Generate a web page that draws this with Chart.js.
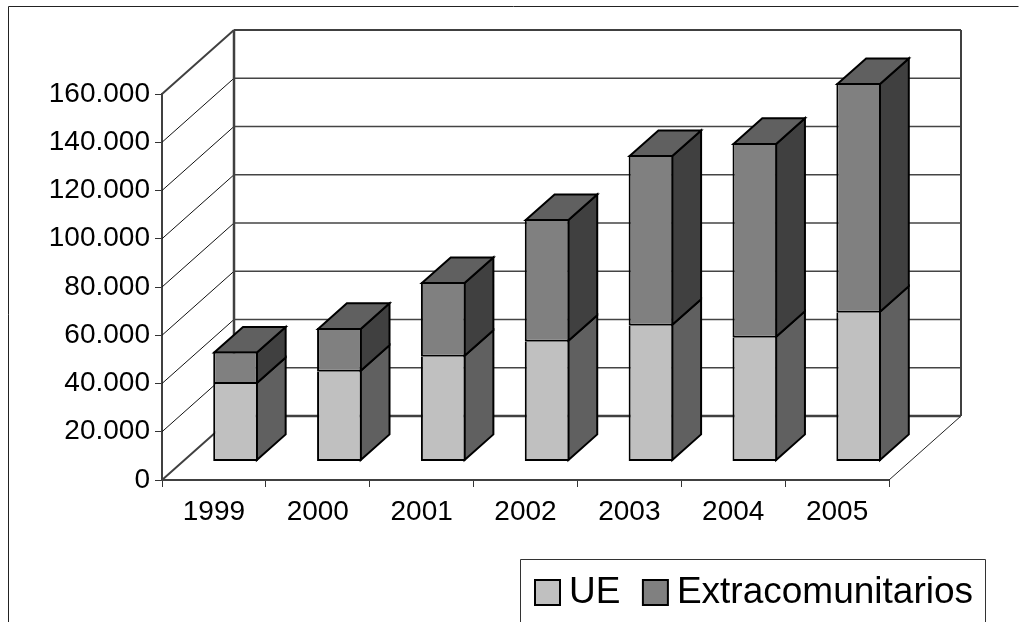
<!DOCTYPE html>
<html>
<head>
<meta charset="utf-8">
<title>UE / Extracomunitarios</title>
<script src="https://cdn.jsdelivr.net/npm/chart.js@4"></script>
<style>
html, body { margin: 0; padding: 0; background: #fff; overflow: hidden; }
canvas { display: block; }
</style>
</head>
<body>
<canvas id="chart" width="1019" height="622"></canvas>
<script>
// values
const categories = ['1999', '2000', '2001', '2002', '2003', '2004', '2005'];
const ueValues = [32100, 37200, 43400, 49600, 56250, 51300, 61650];
const extraValues = [13450, 18150, 31000, 50900, 70800, 80750, 95250];

const FONT = '"Liberation Sans", Arial, sans-serif';
const depthX = 72, depthY = 64;      // depth of the chart box
const barShiftX = 21.6, barShiftY = 18.5; // bars stand a bit behind the axis plane
const barDepthX = 28.8, barDepthY = 25.6;
const inset = 1; // chart.js draws borders inside the bar, side faces meet the middle of it

function poly(ctx, pts, fill, stroke, width) {
    ctx.beginPath();
    pts.forEach((p, i) => i ? ctx.lineTo(p[0], p[1]) : ctx.moveTo(p[0], p[1]));
    ctx.closePath();
    if (fill) { ctx.fillStyle = fill; ctx.fill(); }
    ctx.strokeStyle = stroke;
    ctx.lineWidth = width;
    ctx.stroke();
}

function line(ctx, x1, y1, x2, y2, color, width) {
    ctx.beginPath();
    ctx.moveTo(x1, y1);
    ctx.lineTo(x2, y2);
    ctx.strokeStyle = color;
    ctx.lineWidth = width;
    ctx.stroke();
}

const box3d = {
    id: 'box3d',
    beforeDraw(chart) {
        const ctx = chart.ctx;
        // outer frame, cut off by the window on the right and bottom
        ctx.save();
        ctx.beginPath();
        ctx.moveTo(8.5, 622);
        ctx.lineTo(8.5, 6.5);
        ctx.lineTo(1018.5, 6.5);
        ctx.strokeStyle = '#222';
        ctx.lineWidth = 1;
        ctx.stroke();
        // legend box
        ctx.beginPath();
        ctx.moveTo(520.5, 622);
        ctx.lineTo(520.5, 559.5);
        ctx.lineTo(985.5, 559.5);
        ctx.lineTo(985.5, 622);
        ctx.strokeStyle = '#333';
        ctx.stroke();
        ctx.restore();
        // put the legend where the reference has it
        const lg = chart.legend;
        lg.left = 512.5;
        lg.right = 1019;
        lg.top = 542;
        lg.bottom = 622;
        lg.width = lg.right - lg.left;
        lg.height = lg.bottom - lg.top;
    },
    beforeDatasetsDraw(chart) {
        const ctx = chart.ctx;
        const y = chart.scales.y, x = chart.scales.x;
        const l = x.left, r = x.right;
        const t = y.getPixelForValue(y.max), b = y.getPixelForValue(0);
        ctx.save();
        ctx.lineJoin = 'miter';

        // grid on the side and back walls
        y.ticks.forEach(tick => {
            if (tick.value === 0 || tick.value === y.max) return;
            const py = y.getPixelForValue(tick.value);
            line(ctx, l, py, l + depthX, py - depthY, '#111', 1);
            line(ctx, l + depthX, py - depthY, r + depthX, py - depthY, '#444', 1.5);
        });
        // floor and wall edges
        line(ctx, r, b, r + depthX, b - depthY, '#222', 1);
        line(ctx, l, b, l + depthX, b - depthY, '#404040', 2);
        line(ctx, l, t, l + depthX, t - depthY, '#404040', 2);
        line(ctx, l + depthX, b - depthY, r + depthX, b - depthY, '#404040', 2.5);
        line(ctx, l + depthX, t - depthY, r + depthX, t - depthY, '#404040', 2);
        line(ctx, l + depthX, t - depthY, l + depthX, b - depthY, '#404040', 2.5);
        line(ctx, r + depthX, t - depthY, r + depthX, b - depthY, '#404040', 2);

        // side and top faces of the bars
        const last = chart.data.datasets.length - 1;
        chart.data.datasets.forEach((ds, di) => {
            const meta = chart.getDatasetMeta(di);
            meta.data.forEach(bar => {
                const left = bar.x - bar.width / 2 + barShiftX + inset;
                const right = bar.x + bar.width / 2 + barShiftX - inset;
                const top = bar.y - barShiftY + (di === last ? inset : -inset);
                const base = bar.base - barShiftY - inset;
                poly(ctx, [[right, base], [right + barDepthX, base - barDepthY], [right + barDepthX, top - barDepthY], [right, top]], ds.sideColor, '#000', 2);
                if (di === last) {
                    poly(ctx, [[left, top], [left + barDepthX, top - barDepthY], [right + barDepthX, top - barDepthY], [right, top]], ds.topColor, '#000', 2);
                }
            });
        });
        ctx.restore();
    },
    beforeDatasetDraw(chart) {
        chart.ctx.save();
        chart.ctx.translate(barShiftX, -barShiftY);
    },
    afterDatasetDraw(chart) {
        chart.ctx.restore();
    }
};

new Chart(document.getElementById('chart'), {
    type: 'bar',
    data: {
        labels: categories,
        datasets: [
            {
                label: 'UE',
                data: ueValues,
                backgroundColor: '#C0C0C0',
                sideColor: '#606060',
                borderColor: '#000',
                borderWidth: {top: 0, left: 2, right: 2, bottom: 2},
                borderSkipped: false,
                clip: false
            },
            {
                label: 'Extracomunitarios',
                data: extraValues,
                backgroundColor: '#808080',
                sideColor: '#404040',
                topColor: '#606060',
                borderColor: '#000',
                borderWidth: 2,
                borderSkipped: false,
                clip: false
            }
        ]
    },
    options: {
        responsive: false,
        animation: false,
        barPercentage: 0.43,
        categoryPercentage: 1,
        layout: {padding: {top: 94, right: 130, left: 0, bottom: 23}},
        plugins: {
            title: {display: false},
            tooltip: {enabled: false},
            legend: {
                position: 'bottom',
                align: 'start',
                labels: {
                    color: '#000',
                    font: {family: FONT, size: 37},
                    usePointStyle: true,
                    pointStyle: 'rect',
                    boxWidth: 6,
                    boxHeight: 25,
                    padding: 32,
                    generateLabels(chart) {
                        return Chart.defaults.plugins.legend.labels.generateLabels(chart)
                            .map(item => Object.assign(item, {lineWidth: 2, strokeStyle: '#000'}));
                    }
                }
            }
        },
        scales: {
            x: {
                stacked: true,
                afterFit(scale) { scale.height = 40; },
                border: {color: '#404040', width: 2},
                grid: {drawOnChartArea: false, tickLength: 7, color: '#333', tickWidth: 1},
                ticks: {color: '#000', font: {family: FONT, size: 28}, padding: 8, maxRotation: 0}
            },
            y: {
                stacked: true,
                min: 0,
                max: 160000,
                afterFit(scale) { scale.width = 162; },
                border: {color: '#404040', width: 2},
                grid: {drawOnChartArea: false, tickLength: 7, color: '#333', tickWidth: 1},
                ticks: {
                    color: '#000',
                    font: {family: FONT, size: 28},
                    padding: 5,
                    stepSize: 20000,
                    callback: v => String(v).replace(/\B(?=(\d{3})+$)/g, '.')
                }
            }
        }
    },
    plugins: [box3d]
});
</script>
</body>
</html>
